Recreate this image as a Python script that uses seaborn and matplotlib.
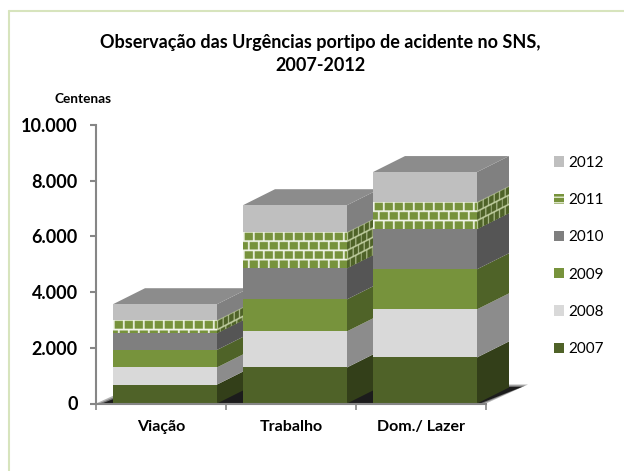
import numpy as np
import pandas as pd
import seaborn as sns
import matplotlib.pyplot as plt
from matplotlib.patches import Patch, Polygon
from matplotlib.lines import Line2D
from matplotlib.transforms import Affine2D

# values (centenas)
categorias = ['Viação', 'Trabalho', 'Dom./ Lazer']
anos = ['2007', '2008', '2009', '2010', '2011', '2012']
v2007 = [680, 1295, 1655]
v2008 = [615, 1295, 1725]
v2009 = [630, 1150, 1440]
v2010 = [595, 1115, 1440]
v2011 = [470, 1295, 970]
v2012 = [575, 970, 1080]
series = [v2007, v2008, v2009, v2010, v2011, v2012]
yticks = [0, 2000, 4000, 6000, 8000, 10000]
ylabels = ['0', '2.000', '4.000', '6.000', '8.000', '10.000']

frente = ['#4f6228', '#d9d9d9', '#77933c', '#7f7f7f', '#77933c', '#bfbfbf']
lado = ['#333f19', '#8c8c8c', '#4f6328', '#555555', '#4f6328', '#808080']
topo = '#8c8c8c'
tijolo = 4  # index of the brick-patterned series

W, H = 624, 471
sns.set_style('white')
plt.rcParams['font.family'] = ['Lato', 'DejaVu Sans']

fig = plt.figure(figsize=(W / 100, H / 100), dpi=100)
# plot box in pixels
px_l, px_r, px_t, px_b = 96, 535, 125, 403.5
ax = fig.add_axes([px_l / W, 1 - px_b / H, (px_r - px_l) / W, (px_b - px_t) / H])
ax.patch.set_alpha(0)

px_x = 1 / 130  # data units per pixel
px_y = 10000 / (px_b - px_t)
x0 = (px_l - 165) / 130
dx, dy = 32 * px_x, 16 * px_y


def textura(w, h, bw, bh, cor, junta, escala=3):
    # brick wall image, w by h pixels, rows start at the top
    w, h = int(round(w * escala)), max(int(round(h * escala)), 1)
    img = np.zeros((h, w, 3))
    img[:] = junta
    bw, bh = bw * escala, bh * escala
    for j in range(h):
        linha = int(j // bh)
        if j - linha * bh < 0.16 * bh:
            continue
        desloc = bw / 2 * (linha % 2)
        for i in range(w):
            if ((i + desloc) % bw) > 0.16 * bw:
                img[j, i] = cor
    return img


def rgb(c):
    return np.array(plt.matplotlib.colors.to_rgb(c))


bottom = np.zeros(3)
for k, vals in enumerate(series):
    d = pd.DataFrame({'cat': categorias, 'v': vals})
    sns.barplot(data=d, x='cat', y='v', bottom=bottom, color=frente[k], saturation=1,
                width=0.8, ax=ax, linewidth=0)
    barras = ax.containers[-1]
    for i, b in enumerate(barras):
        b.set_zorder(5 + 3 * i)
        xa, xb = b.get_x(), b.get_x() + b.get_width()
        ya, yb = b.get_y(), b.get_y() + b.get_height()
        pts = [(xb, ya), (xb + dx, ya + dy), (xb + dx, yb + dy), (xb, yb)]
        face = Polygon(pts, closed=True, fc=lado[k], ec='none', zorder=4 + 3 * i)
        ax.add_patch(face)
        if k == tijolo:
            b.set_alpha(0)
            # bricks on the front face, fixed pixel size
            wpx, hpx = (xb - xa) / px_x, (yb - ya) / px_y
            ax.imshow(textura(wpx, hpx, 10, 9, rgb(frente[k]), rgb('#f2f5ea')),
                      extent=(xa, xb, ya, yb), aspect='auto', interpolation='bilinear',
                      zorder=5 + 3 * i)
            # same on the side face, sheared up with the depth
            slope = dy / dx
            cis = Affine2D.from_values(1, slope, 0, 1, 0, -xb * slope)
            im = ax.imshow(textura(dx / px_x, hpx, 5.5, 9, rgb(lado[k]), rgb('#c3d0a3')),
                           extent=(xb, xb + dx, ya, yb), aspect='auto', interpolation='bilinear',
                           transform=cis + ax.transData, zorder=4 + 3 * i)
            im.set_clip_path(face)
        if k == len(series) - 1:
            pts = [(xa, yb), (xb, yb), (xb + dx, yb + dy), (xa + dx, yb + dy)]
            ax.add_patch(Polygon(pts, closed=True, fc=topo, ec='none', zorder=4 + 3 * i))
    bottom = bottom + np.array(vals)

# floor, with the dark shadow under the columns
x_fim = x0 + 3
f_dx, f_dy = 42 * px_x, 19 * px_y
for inset, cor in [(0, '#b4b4b4'), (3, '#777777'), (6, '#1c1c1c')]:
    e = inset * px_x
    pts = [(x0 + e, 0), (x_fim - e, 0), (x_fim + f_dx - e, f_dy - inset * px_y * 0.4),
           (x0 + f_dx + e, f_dy - inset * px_y * 0.4)]
    ax.add_patch(Polygon(pts, closed=True, fc=cor, ec='none', zorder=2))

ax.set_xlim(x0, (px_r - 165) / 130)
ax.set_ylim(0, 10000)

# axes
sns.despine(ax=ax, top=True, right=True)
for lado_ax in ['left', 'bottom']:
    ax.spines[lado_ax].set_color('#868686')
    ax.spines[lado_ax].set_linewidth(1.5)
    ax.spines[lado_ax].set_zorder(30)
ax.spines['bottom'].set_bounds(x0, x_fim)

ax.set_yticks(yticks)
ax.set_yticklabels(ylabels, fontweight='bold', fontsize=13, color='black')
ax.tick_params(axis='y', left=True, length=4, width=1.5, color='#868686', pad=9)
ax.set_xticks([i - 0.03 for i in range(3)])
ax.set_xticklabels(categorias, fontweight='bold', fontsize=11.5, color='black')
ax.set_xticks([x0 + i for i in range(4)], minor=True)
ax.tick_params(axis='x', which='major', bottom=False, length=0, pad=12)
ax.tick_params(axis='x', which='minor', bottom=True, length=4, width=1.2, color='#868686')
ax.set_xlabel('')
ax.set_ylabel('')
ax.grid(False)

# text outside the axes
fig.text(320 / W, 1 - 54 / H, 'Observação das Urgências portipo de acidente no SNS,\n2007-2012',
         ha='center', va='center', fontweight='bold', fontsize=13, color='black', linespacing=1.4)
fig.text(83 / W, 1 - 99 / H, 'Centenas', ha='center', va='center', fontweight='bold',
         fontsize=9.8, color='black')

# legend, newest year on top
handles = []
for k in range(len(anos) - 1, -1, -1):
    if k == tijolo:
        handles.append(Patch(fc=frente[k], ec='#e4ebd3', hatch='---', lw=0))
    else:
        handles.append(Patch(fc=frente[k], ec='none'))
leg = fig.legend(handles, anos[::-1], loc='center left', bbox_to_anchor=(540 / W, 1 - 256 / H),
                 frameon=False, fontsize=11, labelspacing=1.52, handlelength=0.65,
                 handleheight=0.65, handletextpad=0.3)
for t in leg.get_texts():
    t.set_color('black')

# chart frame: only top and left edges are inside the picture
fig.add_artist(Line2D([9 / W, 9 / W], [0, 1 - 11 / H], color='#d7e4bd', lw=1.5))
fig.add_artist(Line2D([9 / W, 1], [1 - 11 / H, 1 - 11 / H], color='#d7e4bd', lw=1.5))

fig.savefig('out.png', dpi=100)
